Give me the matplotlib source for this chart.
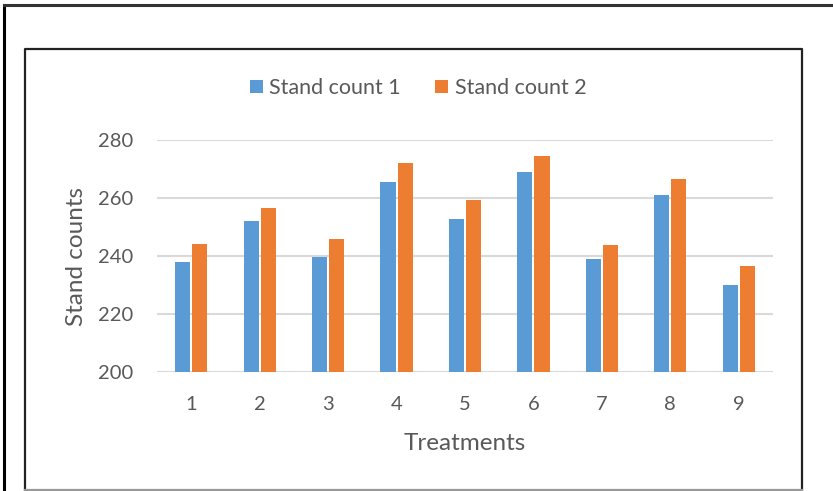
import matplotlib.pyplot as plt
import numpy as np
from matplotlib.lines import Line2D

plt.rcParams['font.family'] = ['Lato', 'DejaVu Sans']

treatments = ['1', '2', '3', '4', '5', '6', '7', '8', '9']
stand_count_1 = [237.9, 252.1, 239.5, 265.5, 252.7, 268.8, 239.0, 261.1, 230.0]
stand_count_2 = [244.1, 256.6, 245.7, 272.0, 259.2, 274.4, 243.7, 266.6, 236.7]

blue = '#5B9BD5'
orange = '#ED7D31'
txt = '#595959'

fig = plt.figure(figsize=(8.33, 4.91), dpi=100)
W, H = 833, 491

# outer frame (top and left only) and inner chart frame
fig.add_artist(Line2D([3.5 / W, 3.5 / W], [0, 1 - 5 / H], color='black', lw=2.2))
fig.add_artist(Line2D([3.5 / W, 1], [1 - 5 / H, 1 - 5 / H], color='#333333', lw=2.2))
fig.add_artist(Line2D([25 / W, 25 / W, 802 / W, 802 / W], [1 / H, 1 - 49 / H, 1 - 49 / H, 1 / H],
                      color='#222222', lw=1.6))
fig.add_artist(Line2D([25 / W, 802 / W], [1 / H, 1 / H], color='#999999', lw=1.6))

ax = fig.add_axes([157 / W, 1 - 372 / H, (773 - 157) / W, (372 - 140) / H])
x = np.arange(1, len(treatments) + 1)
w = 0.22
ax.bar(x - 0.125, stand_count_1, w, color=blue, label='Stand count 1', zorder=3)
ax.bar(x + 0.125, stand_count_2, w, color=orange, label='Stand count 2', zorder=3)

ax.set_xlim(0.5, 9.5)
ax.set_ylim(200, 280)
ax.set_yticks([200, 220, 240, 260, 280])
ax.set_xticks(x)
ax.set_xticklabels(treatments)
ax.grid(axis='y', color='#D9D9D9', lw=1.5, zorder=0)
for s in ax.spines.values():
    s.set_visible(False)
ax.tick_params(length=0, labelsize=14.5, colors=txt)
ax.tick_params(axis='x', pad=17)
ax.tick_params(axis='y', pad=17)
ax.set_ylabel('Stand counts', fontsize=17.5, color=txt, labelpad=8)
ax.set_xlabel('Treatments', fontsize=17.5, color=txt, labelpad=15)

leg = fig.legend(loc='center', bbox_to_anchor=(418 / W, 1 - 88 / H), ncol=2, frameon=False,
                 fontsize=15.5, handlelength=0.6, handleheight=0.6, handletextpad=0.3,
                 columnspacing=1.6)
for t in leg.get_texts():
    t.set_color(txt)

fig.savefig('out.png', dpi=100, facecolor='white')
